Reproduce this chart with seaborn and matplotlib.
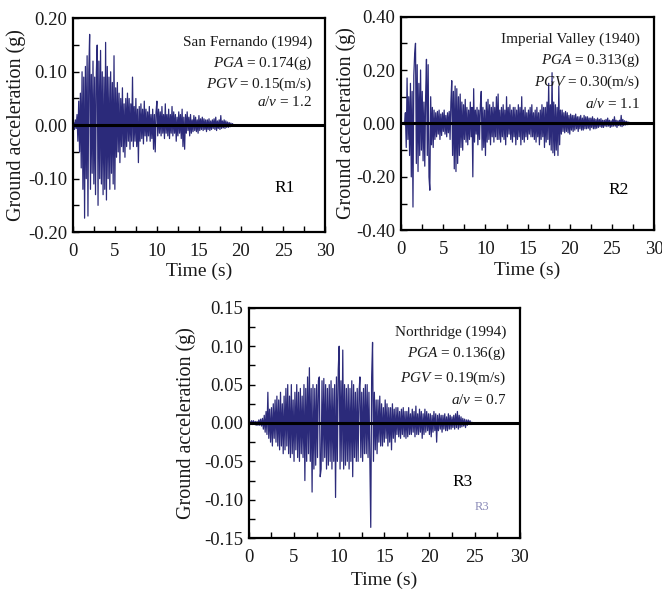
import numpy as np
import pandas as pd
import matplotlib
matplotlib.use("Agg")
import matplotlib.pyplot as plt
import seaborn as sns
from matplotlib.ticker import MultipleLocator, FixedLocator, FixedFormatter

# ---------------- data ----------------
dt = 0.1  # s, sampling step of the digitised records

r1_acc = [0.000, 0.005, -0.008, 0.010, -0.006,
          0.020, -0.030, 0.045, -0.050, 0.060,
          -0.080, 0.100, -0.120, 0.090, -0.174,
          0.110, -0.100, 0.130, -0.170, 0.100,
          0.170, -0.120, 0.095, -0.090, 0.120,
          -0.110, 0.090, -0.130, 0.100, 0.150,
          -0.150, 0.120, -0.100, 0.140, -0.110,
          0.100, -0.130, 0.090, -0.120, 0.155,
          -0.140, 0.110, -0.100, 0.090, -0.120,
          0.100, -0.090, 0.080, -0.110, 0.130,
          -0.120, 0.070, -0.060, 0.080, -0.050,
          0.060, -0.070, 0.050, -0.040, 0.070,
          -0.050, 0.040, -0.060, 0.050, -0.040,
          0.060, -0.030, 0.050, -0.045, 0.040,
          -0.030, 0.090, -0.040, 0.035, -0.030,
          0.050, -0.040, 0.030, -0.070, 0.035,
          -0.030, 0.040, -0.025, 0.030, -0.035,
          0.045, -0.020, 0.030, -0.030, 0.025,
          -0.020, 0.035, -0.030, 0.020, -0.025,
          0.030, -0.045, 0.020, -0.050, 0.025,
          0.045, -0.020, 0.030, -0.015, 0.025,
          -0.020, 0.035, -0.015, 0.020, -0.025,
          0.040, -0.015, 0.020, -0.020, 0.030,
          -0.025, 0.020, -0.015, 0.035, -0.020,
          0.025, -0.015, 0.020, -0.030, 0.015,
          -0.020, 0.025, -0.015, 0.020, -0.025,
          0.030, -0.040, 0.015, -0.045, 0.020,
          -0.015, 0.025, -0.010, 0.015, -0.020,
          0.020, -0.015, 0.010, -0.012, 0.018,
          -0.010, 0.015, -0.012, 0.010, -0.015,
          0.018, -0.010, 0.012, -0.008, 0.015,
          -0.010, 0.012, -0.008, 0.010, -0.012,
          0.010, -0.008, 0.012, -0.010, 0.008,
          -0.008, 0.010, -0.006, 0.012, -0.008,
          0.015, -0.010, 0.008, -0.006, 0.010,
          -0.008, 0.018, -0.006, 0.008, -0.005,
          0.010, -0.006, 0.008, -0.004, 0.006,
          -0.004, 0.005, -0.003, 0.004, -0.002,
          0.003, -0.001, 0.000]

r2_acc = [0.000, 0.002, -0.003, 0.004, -0.005,
          0.040, -0.090, 0.170, -0.060, 0.100,
          -0.120, 0.150, -0.200, 0.120, -0.313,
          0.180, 0.260, 0.300, -0.150, 0.220,
          -0.180, 0.150, -0.120, 0.200, -0.100,
          0.120, -0.140, 0.080, -0.160, 0.100,
          0.240, -0.120, 0.220, -0.200, -0.250,
          0.100, -0.080, 0.060, -0.090, 0.050,
          -0.060, 0.040, -0.050, 0.045, -0.040,
          0.050, -0.060, 0.035, -0.045, 0.040,
          -0.030, 0.050, -0.040, 0.030, -0.050,
          0.040, -0.035, 0.045, -0.060, 0.080,
          0.160, -0.120, 0.120, -0.170, 0.140,
          -0.180, 0.130, -0.150, 0.100, -0.120,
          0.110, -0.090, 0.080, -0.100, 0.070,
          -0.060, 0.090, -0.070, 0.060, -0.080,
          0.050, -0.060, 0.080, -0.050, 0.060,
          -0.200, 0.130, -0.070, 0.050, -0.040,
          0.060, -0.080, 0.050, -0.060, 0.070,
          0.120, -0.100, 0.060, -0.090, 0.050,
          -0.120, 0.080, -0.070, 0.090, -0.060,
          0.070, -0.080, 0.060, -0.050, 0.080,
          -0.070, 0.060, -0.050, 0.100, -0.060,
          0.110, -0.060, 0.050, -0.070, 0.060,
          -0.050, 0.070, -0.060, 0.050, -0.080,
          0.100, -0.050, 0.060, -0.040, 0.070,
          -0.060, 0.050, -0.070, 0.060, -0.050,
          0.060, -0.080, 0.050, -0.060, 0.070,
          -0.050, 0.060, -0.080, 0.100, -0.060,
          0.050, -0.070, 0.060, -0.050, 0.040,
          -0.060, 0.050, -0.040, 0.060, -0.050,
          0.070, -0.050, 0.040, -0.060, 0.050,
          -0.070, 0.060, -0.050, 0.040, -0.080,
          0.050, -0.060, 0.070, -0.050, 0.060,
          -0.090, 0.060, -0.070, 0.080, -0.060,
          0.150, -0.080, 0.070, -0.100, 0.190,
          -0.110, 0.080, -0.120, 0.070, -0.100,
          0.060, -0.120, 0.140, -0.080, 0.050,
          -0.040, 0.050, -0.030, 0.040, -0.035,
          0.045, -0.030, 0.040, -0.035, 0.030,
          -0.040, 0.035, -0.025, 0.030, -0.030,
          0.030, -0.025, 0.035, -0.020, 0.025,
          -0.030, 0.025, -0.020, 0.030, -0.025,
          0.020, -0.025, 0.030, -0.020, 0.025,
          -0.020, 0.025, -0.018, 0.020, -0.025,
          0.020, -0.015, 0.025, -0.020, 0.018,
          -0.020, 0.015, -0.018, 0.020, -0.015,
          0.015, -0.012, 0.018, -0.015, 0.012,
          -0.015, 0.012, -0.010, 0.015, -0.012,
          0.020, -0.010, 0.012, -0.015, 0.010,
          -0.012, 0.015, -0.010, 0.025, -0.010,
          0.012, -0.015, 0.010, -0.008, 0.012,
          -0.010, 0.030, -0.012, 0.015, -0.008,
          0.010, -0.006, 0.008, -0.005, 0.006,
          -0.004, 0.004, -0.003, 0.002, -0.001,
          0.000]

r3_acc = [0.000, 0.002, -0.002, 0.003, -0.002,
          0.003, -0.002, 0.002, -0.003, 0.002,
          -0.003, 0.004, -0.003, 0.005, -0.004,
          0.006, -0.008, 0.010, -0.012, 0.015,
          -0.015, 0.040, -0.020, 0.018, -0.025,
          0.020, -0.030, 0.025, -0.020, 0.030,
          -0.025, 0.035, -0.030, 0.030, -0.035,
          0.040, -0.030, 0.025, -0.040, 0.035,
          -0.035, 0.045, -0.030, 0.050, -0.040,
          0.035, -0.045, 0.050, -0.040, 0.030,
          -0.050, 0.040, -0.035, 0.050, -0.045,
          0.040, -0.050, 0.045, -0.040, 0.035,
          -0.045, 0.050, -0.075, 0.045, -0.050,
          0.060, -0.040, 0.072, -0.050, 0.045,
          -0.090, 0.050, -0.060, 0.045, -0.055,
          0.050, -0.045, 0.055, 0.060, -0.070,
          -0.060, 0.055, -0.050, 0.058, -0.045,
          0.050, -0.060, 0.045, -0.055, 0.050,
          -0.050, 0.055, -0.060, 0.045, -0.050,
          0.050, -0.097, 0.060, -0.050, 0.070,
          0.100, -0.060, 0.055, -0.050, 0.095,
          -0.060, 0.050, -0.055, 0.045, -0.050,
          0.050, -0.060, 0.045, -0.050, 0.055,
          -0.070, 0.050, -0.045, 0.040, -0.050,
          0.045, -0.050, 0.040, 0.060, -0.045,
          0.040, -0.050, 0.045, -0.040, 0.050,
          -0.040, 0.050, -0.045, 0.040, -0.050,
          -0.136, 0.060, 0.105, -0.050, 0.040,
          -0.035, 0.030, -0.040, 0.030, -0.025,
          0.035, -0.030, 0.025, -0.030, 0.020,
          -0.025, 0.030, -0.020, 0.025, -0.030,
          0.020, -0.025, 0.020, -0.035, 0.025,
          -0.020, 0.018, -0.025, 0.020, -0.015,
          0.020, -0.018, 0.015, -0.020, 0.018,
          -0.015, 0.020, -0.018, 0.015, -0.020,
          0.015, -0.018, 0.020, -0.015, 0.012,
          -0.015, 0.018, -0.012, 0.015, -0.018,
          0.022, -0.015, 0.012, -0.015, 0.018,
          -0.012, 0.015, -0.020, 0.012, -0.015,
          0.018, -0.012, 0.015, -0.010, 0.012,
          -0.015, 0.012, -0.018, 0.010, -0.012,
          0.015, -0.010, 0.012, -0.025, 0.010,
          -0.010, 0.012, -0.008, 0.010, -0.012,
          0.010, -0.008, 0.012, -0.010, 0.008,
          -0.010, 0.012, -0.008, 0.010, -0.008,
          0.008, -0.006, 0.010, -0.008, 0.012,
          -0.006, 0.015, -0.008, 0.010, -0.006,
          0.008, -0.005, 0.006, -0.004, 0.005,
          -0.006, 0.004, -0.003, 0.004, -0.002,
          0.003, -0.002, 0.001, 0.000]

records = ["R1", "R2", "R3"]
quake_names = ["San Fernando (1994)", "Imperial Valley (1940)", "Northridge (1994)"]
pga_text = ["0.174(g)", "0.313(g)", "0.136(g)"]
pgv_text = ["0.15(m/s)", "0.30(m/s)", "0.19(m/s)"]
av_text = ["1.2", "1.1", "0.7"]

x_ticks = [0, 5, 10, 15, 20, 25, 30]
x_tick_labels = ["0", "5", "10", "15", "20", "25", "30"]
y1_ticks = [-0.20, -0.10, 0.00, 0.10, 0.20]
y1_labels = ["-0.20", "-0.10", "0.00", "0.10", "0.20"]
y2_ticks = [-0.40, -0.20, 0.00, 0.20, 0.40]
y2_labels = ["-0.40", "-0.20", "0.00", "0.20", "0.40"]
y3_ticks = [-0.15, -0.10, -0.05, 0.00, 0.05, 0.10, 0.15]
y3_labels = ["-0.15", "-0.10", "-0.05", "0.00", "0.05", "0.10", "0.15"]

# ---------------- style ----------------
sns.set_theme(style="ticks")
plt.rcParams["font.family"] = ["Liberation Serif", "DejaVu Serif"]
plt.rcParams["mathtext.fontset"] = "custom"
plt.rcParams["mathtext.rm"] = "Liberation Serif"
plt.rcParams["mathtext.it"] = "Liberation Serif:italic"

LINE = "#2b2a7a"
TXT = "#1a1a1a"

fig = plt.figure(figsize=(6.62, 5.92), dpi=100)
ax1 = fig.add_axes([0.110, 0.608, 0.381, 0.361])
ax2 = fig.add_axes([0.606, 0.611, 0.382, 0.361])
ax3 = fig.add_axes([0.376, 0.091, 0.409, 0.389])
axes = [ax1, ax2, ax3]

accs = [r1_acc, r2_acc, r3_acc]
yt = [(y1_ticks, y1_labels, 0.05), (y2_ticks, y2_labels, 0.10), (y3_ticks, y3_labels, 0.025)]
text_x = [0.950, 0.945, 0.952]
text_y = [[0.889, 0.788, 0.692, 0.607],
          [0.893, 0.794, 0.693, 0.593],
          [0.896, 0.804, 0.696, 0.600]]
rlab_pos = [(0.841, 0.206), (0.858, 0.187), (0.790, 0.243)]
ylab_x = [-0.186, -0.178, -0.196]
xlab_y = [-0.145, -0.145, -0.145]

for i, ax in enumerate(axes):
    acc = np.asarray(accs[i])
    df = pd.DataFrame({"Time (s)": np.arange(len(acc)) * dt, "acc": acc})
    sns.lineplot(data=df, x="Time (s)", y="acc", ax=ax, color=LINE,
                 linewidth=0.9, estimator=None, sort=False)
    ax.axhline(0, color="black", linewidth=2.2, zorder=3)

    ticks, labels, minor = yt[i]
    ax.set_xlim(0, 30)
    ax.set_ylim(ticks[0], ticks[-1])
    ax.xaxis.set_major_locator(FixedLocator(x_ticks))
    ax.xaxis.set_major_formatter(FixedFormatter(x_tick_labels))
    ax.xaxis.set_minor_locator(MultipleLocator(2.5))
    ax.yaxis.set_major_locator(FixedLocator(ticks))
    ax.yaxis.set_major_formatter(FixedFormatter(labels))
    ax.yaxis.set_minor_locator(MultipleLocator(minor))
    ax.tick_params(axis="both", which="both", direction="in", length=4,
                   width=1.0, color="black", labelcolor=TXT, labelsize=13.5)
    ax.tick_params(axis="x", which="both", pad=8)
    ax.tick_params(axis="y", which="both", pad=4)
    for s in ax.spines.values():
        s.set_visible(True)
        s.set_linewidth(1.6)
        s.set_color("black")

    ax.set_xlabel("Time (s)", fontsize=14, color=TXT)
    ax.set_ylabel("Ground acceleration (g)", fontsize=14.5, color=TXT)
    ax.xaxis.set_label_coords(0.5, xlab_y[i])
    ax.yaxis.set_label_coords(ylab_x[i], 0.5)

    lines = [quake_names[i],
             r"$\mathit{PGA}$ = " + pga_text[i],
             r"$\mathit{PGV}$ = " + pgv_text[i],
             r"$\mathit{a/v}$ = " + av_text[i]]
    for ln, yy in zip(lines, text_y[i]):
        ax.text(text_x[i], yy, ln, transform=ax.transAxes, ha="right",
                va="center", fontsize=11, color=TXT, zorder=4)
    ax.text(rlab_pos[i][0], rlab_pos[i][1], records[i], transform=ax.transAxes,
            ha="center", va="center", fontsize=12.5, color="black")

# faint leftover label under R3
ax3.text(0.86, 0.135, "R3", transform=ax3.transAxes, ha="center", va="center",
         fontsize=9, color="#5a5a9a", alpha=0.7)

fig.savefig("out.png", dpi=100)
